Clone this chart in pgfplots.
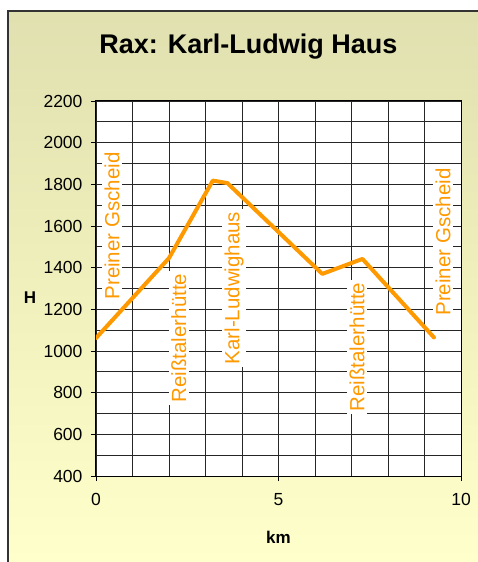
\documentclass[border=0pt]{standalone}
\usepackage{fontspec}
\setmainfont{Liberation Sans}
\usepackage{pgfplots}
\pgfplotsset{compat=1.18}
\definecolor{bgtop}{RGB}{224,224,176}
\definecolor{bgmid}{RGB}{240,240,188}
\definecolor{bgbot}{RGB}{255,255,204}
\definecolor{lineor}{RGB}{255,153,0}
\begin{document}
\begin{tikzpicture}[x=1pt,y=1pt]
\useasboundingbox (0,0) rectangle (478,562);
\fill[white] (0,0) rectangle (478,562);
\shade[top color=bgtop, bottom color=bgbot, middle color=bgmid] (8,0) rectangle (478,551);
\draw[black!80, line width=1.5pt] (8,0) -- (8,551) -- (478,551);
\begin{axis}[
  at={(96pt,86pt)}, anchor=south west,
  scale only axis, width=365pt, height=375pt,
  xmin=0, xmax=10, ymin=400, ymax=2200,
  xtick={0,5,10}, ytick={400,600,...,2200},
  minor x tick num=4, minor y tick num=1,
  grid=both,
  major grid style={black!85, line width=0.9pt},
  minor grid style={black!85, line width=0.9pt},
  axis line style={black, line width=1pt},
  tick style={black, line width=0.8pt},
  tick align=outside, major tick length=5pt, minor tick length=0pt,
  xtick pos=bottom, ytick pos=left,
  axis background/.style={fill=white},
  /pgf/number format/assume math mode=true,
  /pgf/number format/set thousands separator={},
  tick label style={font=\fontsize{17.5}{20}\selectfont},
  yticklabel style={xshift=-5pt},
  xticklabel style={yshift=-9pt},
  title={\bfseries Rax: Karl-Ludwig Haus},
  title style={font=\fontsize{27}{30}\selectfont, at={(axis description cs:0.5,1)}, anchor=center, yshift=48pt, xshift=-30pt},
  xlabel={\bfseries km},
  every axis x label/.style={at={(axis description cs:0.5,0)}, anchor=center, yshift=-61pt, font=\fontsize{17}{20}\selectfont},
  ylabel={\bfseries H},
  every axis y label/.style={at={(axis description cs:0,0.475)}, anchor=center, xshift=-66pt, font=\fontsize{17}{20}\selectfont},
]
\begin{scope}[every node/.style={rotate=90, fill=white, inner sep=2.5pt, text=lineor, font=\fontsize{20.5}{24}\selectfont}]
\node at (axis cs:0.44,1600) {Preiner Gscheid};
\node at (axis cs:2.27,1062) {Reißtalerhütte};
\node at (axis cs:3.78,1302) {Karl-Ludwighaus};
\node at (axis cs:7.15,1019) {Reißtalerhütte};
\node at (axis cs:9.51,1523) {Preiner Gscheid};
\end{scope}
\addplot[color=lineor, line width=4pt, line join=round, line cap=round] coordinates {
(0,1062) (2.0,1446) (3.2,1818) (3.6,1806) (6.2,1370) (7.3,1442) (9.26,1065)
};
\end{axis}
\end{tikzpicture}
\end{document}
